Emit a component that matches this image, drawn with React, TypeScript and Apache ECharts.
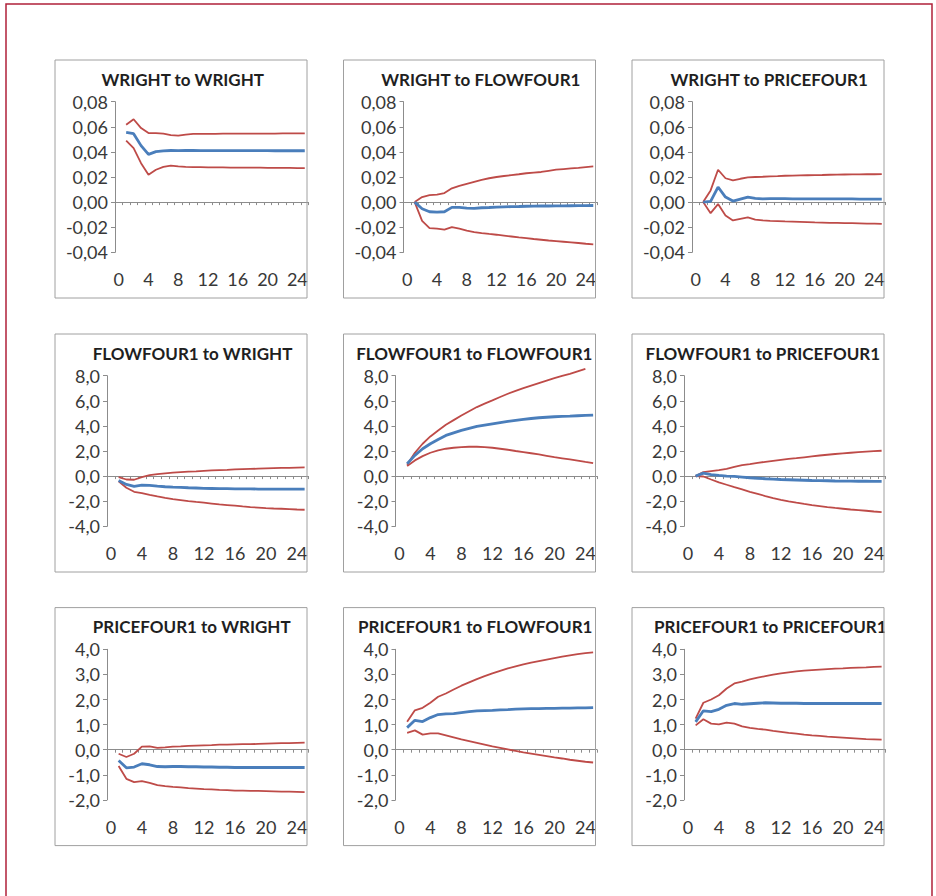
import React, { useEffect, useRef } from "react";
import * as echarts from "echarts";

// ---------- DATA ----------
const categories = ["0","1","2","3","4","5","6","7","8","9","10","11","12","13","14","15","16","17","18","19","20","21","22","23","24","25"];

const titles = [
  "WRIGHT to WRIGHT", "WRIGHT to FLOWFOUR1", "WRIGHT to PRICEFOUR1",
  "FLOWFOUR1 to WRIGHT", "FLOWFOUR1 to FLOWFOUR1", "FLOWFOUR1 to PRICEFOUR1",
  "PRICEFOUR1 to WRIGHT", "PRICEFOUR1 to FLOWFOUR1", "PRICEFOUR1 to PRICEFOUR1",
];

// y-axis scale per row: min, max, interval, decimals
const rowMin = [-0.04, -4, -2];
const rowMax = [0.08, 8, 4];
const rowInterval = [0.02, 2, 1];
const rowDecimals = [2, 1, 1];

// responses for horizons 1..25 (response, upper band, lower band)
const wrWrMid = [0.0555,0.0545,0.045,0.038,0.0402,0.0408,0.0411,0.041,0.0412,0.0411,0.041,0.041,0.041,0.041,0.041,0.041,0.041,0.041,0.041,0.041,0.0409,0.0409,0.0409,0.0409,0.0409];
const wrWrUp = [0.0616,0.066,0.059,0.055,0.055,0.0545,0.0534,0.053,0.0538,0.0543,0.0543,0.0544,0.0544,0.0545,0.0545,0.0545,0.0545,0.0546,0.0546,0.0546,0.0546,0.0547,0.0547,0.0547,0.0547];
const wrWrLo = [0.049,0.043,0.031,0.0218,0.0258,0.028,0.029,0.0284,0.0281,0.0279,0.0278,0.0277,0.0276,0.0276,0.0275,0.0275,0.0274,0.0274,0.0274,0.0273,0.0273,0.0272,0.0272,0.0271,0.0271];

const wrFlMid = [0,-0.0053,-0.0077,-0.008,-0.0077,-0.0042,-0.0042,-0.0048,-0.005,-0.0045,-0.0043,-0.004,-0.0038,-0.0036,-0.0035,-0.0033,-0.0032,-0.0031,-0.0031,-0.003,-0.003,-0.0029,-0.0028,-0.0028,-0.0027];
const wrFlUp = [0,0.004,0.0056,0.006,0.0072,0.011,0.013,0.0146,0.0162,0.0178,0.019,0.02,0.0208,0.0215,0.0222,0.023,0.0235,0.024,0.0249,0.0258,0.0263,0.0268,0.0273,0.0279,0.0284];
const wrFlLo = [0,-0.0149,-0.0207,-0.0212,-0.022,-0.02,-0.0212,-0.0228,-0.0239,-0.0247,-0.0254,-0.026,-0.0267,-0.0274,-0.0281,-0.0287,-0.0294,-0.03,-0.0306,-0.0311,-0.0316,-0.0321,-0.0326,-0.0332,-0.0337];

const wrPrMid = [0,0.0005,0.012,0.004,0.0008,0.0024,0.004,0.003,0.0025,0.0027,0.0027,0.0027,0.0026,0.0026,0.0026,0.0026,0.0025,0.0025,0.0025,0.0025,0.0025,0.0024,0.0024,0.0024,0.0024];
const wrPrUp = [0,0.0093,0.0258,0.019,0.0173,0.0186,0.0197,0.02,0.0202,0.0205,0.0207,0.021,0.0211,0.0213,0.0214,0.0215,0.0216,0.0218,0.0219,0.022,0.0221,0.0221,0.0222,0.0222,0.0223];
const wrPrLo = [0,-0.0088,-0.0016,-0.0106,-0.0146,-0.0133,-0.0122,-0.014,-0.0146,-0.0149,-0.0151,-0.0154,-0.0156,-0.0158,-0.016,-0.0162,-0.0163,-0.0165,-0.0166,-0.0167,-0.0168,-0.0169,-0.0171,-0.0172,-0.0173];

const flWrMid = [-0.35,-0.66,-0.82,-0.72,-0.74,-0.8,-0.85,-0.88,-0.9,-0.93,-0.95,-0.98,-0.99,-1.0,-1.0,-1.01,-1.02,-1.02,-1.03,-1.04,-1.04,-1.04,-1.04,-1.04,-1.04];
const flWrUp = [-0.08,-0.27,-0.29,-0.08,0.08,0.16,0.22,0.27,0.31,0.35,0.38,0.42,0.45,0.48,0.5,0.53,0.55,0.57,0.59,0.61,0.63,0.65,0.66,0.68,0.69];
const flWrLo = [-0.42,-0.93,-1.25,-1.35,-1.49,-1.62,-1.73,-1.83,-1.91,-1.99,-2.06,-2.12,-2.19,-2.26,-2.31,-2.36,-2.42,-2.47,-2.51,-2.55,-2.58,-2.6,-2.63,-2.66,-2.68];

const flFlMid = [0.98,1.65,2.18,2.58,2.92,3.24,3.45,3.64,3.8,3.96,4.07,4.17,4.27,4.36,4.44,4.52,4.59,4.65,4.69,4.73,4.76,4.78,4.81,4.84,4.86];
const flFlUp = [0.9,1.86,2.58,3.16,3.64,4.09,4.46,4.83,5.17,5.5,5.77,6.03,6.3,6.56,6.79,7.01,7.21,7.41,7.61,7.81,7.98,8.15,8.35,8.55,null];
const flFlLo = [0.8,1.25,1.59,1.86,2.05,2.18,2.26,2.31,2.34,2.34,2.31,2.26,2.18,2.1,2.0,1.91,1.82,1.73,1.62,1.51,1.42,1.33,1.23,1.13,1.04];

const flPrMid = [0,0.24,0.11,0.05,0,-0.03,-0.08,-0.13,-0.17,-0.21,-0.24,-0.27,-0.29,-0.31,-0.33,-0.35,-0.36,-0.37,-0.39,-0.4,-0.4,-0.41,-0.41,-0.42,-0.42];
const flPrUp = [0,0.32,0.4,0.48,0.58,0.74,0.88,0.96,1.05,1.14,1.22,1.3,1.37,1.43,1.5,1.57,1.64,1.7,1.76,1.81,1.86,1.91,1.95,1.99,2.02];
const flPrLo = [0,-0.03,-0.27,-0.5,-0.69,-0.88,-1.06,-1.25,-1.42,-1.59,-1.75,-1.89,-2.01,-2.12,-2.22,-2.31,-2.39,-2.47,-2.54,-2.6,-2.66,-2.71,-2.76,-2.82,-2.87];

const prWrMid = [-0.43,-0.72,-0.69,-0.56,-0.6,-0.67,-0.68,-0.67,-0.67,-0.68,-0.68,-0.69,-0.69,-0.7,-0.7,-0.71,-0.71,-0.71,-0.71,-0.71,-0.71,-0.71,-0.71,-0.71,-0.71];
const prWrUp = [-0.16,-0.29,-0.16,0.12,0.13,0.07,0.09,0.12,0.13,0.15,0.16,0.17,0.18,0.2,0.2,0.21,0.22,0.22,0.23,0.24,0.25,0.26,0.26,0.27,0.28];
const prWrLo = [-0.65,-1.16,-1.29,-1.25,-1.32,-1.41,-1.45,-1.48,-1.5,-1.53,-1.55,-1.57,-1.58,-1.6,-1.61,-1.63,-1.63,-1.64,-1.64,-1.65,-1.66,-1.67,-1.67,-1.68,-1.69];

const prFlMid = [0.88,1.17,1.12,1.28,1.4,1.43,1.44,1.48,1.52,1.55,1.56,1.57,1.59,1.6,1.62,1.63,1.64,1.64,1.65,1.65,1.66,1.66,1.67,1.67,1.68];
const prFlUp = [1.11,1.57,1.67,1.87,2.11,2.24,2.4,2.55,2.68,2.81,2.93,3.04,3.14,3.24,3.32,3.4,3.47,3.53,3.59,3.65,3.71,3.76,3.81,3.85,3.88];
const prFlLo = [0.67,0.77,0.6,0.65,0.65,0.57,0.49,0.41,0.34,0.27,0.2,0.13,0.07,0.01,-0.05,-0.11,-0.16,-0.21,-0.26,-0.31,-0.35,-0.4,-0.44,-0.48,-0.51];

const prPrMid = [1.11,1.55,1.52,1.61,1.77,1.84,1.81,1.83,1.85,1.87,1.86,1.85,1.85,1.85,1.84,1.84,1.84,1.84,1.84,1.84,1.84,1.84,1.84,1.84,1.84];
const prPrUp = [1.24,1.87,2.0,2.17,2.44,2.64,2.71,2.8,2.87,2.93,2.99,3.04,3.08,3.12,3.15,3.17,3.19,3.21,3.23,3.24,3.26,3.27,3.28,3.3,3.31];
const prPrLo = [0.97,1.21,1.04,1.01,1.08,1.04,0.93,0.87,0.83,0.8,0.75,0.71,0.67,0.64,0.6,0.57,0.55,0.52,0.5,0.48,0.46,0.44,0.42,0.41,0.4];

const panelMid = [wrWrMid, wrFlMid, wrPrMid, flWrMid, flFlMid, flPrMid, prWrMid, prFlMid, prPrMid];
const panelUp = [wrWrUp, wrFlUp, wrPrUp, flWrUp, flFlUp, flPrUp, prWrUp, prFlUp, prPrUp];
const panelLo = [wrWrLo, wrFlLo, wrPrLo, flWrLo, flFlLo, flPrLo, prWrLo, prFlLo, prPrLo];

// ---------- LAYOUT ----------
const FONT = "Lato";
const colLeft = [55, 343.5, 632];
const rowTop = [60, 334, 607.6];
const boxW = 252;
const boxH = 238;
const axisOffset = [60, 52, 52];
const plotRight = 253.5;
const plotTopOff = 41.7;
const plotH = 150.6;
const titleCx = [182.7, 480.8, 769.2, 192.5, 474.3, 762.8, 191.7, 475.2, 654];
const titleAlign = ["center", "center", "center", "center", "center", "center", "center", "center", "left"];

const BLUE = "#4A7EBB";
const RED = "#BE4B48";
const AXIS = "#8C8C8C";
const LABEL = "#383838";

export default function App() {
  const ref = useRef<HTMLDivElement>(null);
  useEffect(() => {
    if (!ref.current) return;
    const chart = echarts.init(ref.current, null, { renderer: "svg" });
    const grid: any[] = [];
    const xAxis: any[] = [];
    const yAxis: any[] = [];
    const series: any[] = [];
    const graphic: any[] = [];

    graphic.push({
      type: "rect", z: 1,
      shape: { x: 6, y: 4, width: 926, height: 920 },
      style: { fill: "none", stroke: "#B0203A", lineWidth: 1.5 },
    });

    for (let i = 0; i < 9; i++) {
      const r = Math.floor(i / 3);
      const c = i % 3;
      const bx = colLeft[c];
      const by = rowTop[r];
      const left = bx + axisOffset[r];
      const width = bx + plotRight - left;
      grid.push({ left, top: by + plotTopOff, width, height: plotH, containLabel: false });
      const dec = rowDecimals[r];
      xAxis.push({
        type: "category", gridIndex: i, data: categories, boundaryGap: true, position: "bottom",
        axisLine: { onZero: true, lineStyle: { color: AXIS, width: 1 } },
        axisTick: { show: true, interval: 0, length: 3, lineStyle: { color: AXIS } },
        axisLabel: { show: false }, splitLine: { show: false },
      });
      xAxis.push({
        type: "category", gridIndex: i, data: categories, boundaryGap: true, position: "bottom",
        axisLine: { show: false, onZero: false }, axisTick: { show: false },
        axisLabel: { show: true, interval: 3, margin: 18, fontSize: 18, color: LABEL, fontFamily: FONT },
        splitLine: { show: false },
      });
      yAxis.push({
        type: "value", gridIndex: i, min: rowMin[r], max: rowMax[r], interval: rowInterval[r],
        axisLine: { show: true, lineStyle: { color: AXIS, width: 1 } },
        axisTick: { show: true, length: 4, lineStyle: { color: AXIS } },
        splitLine: { show: false },
        axisLabel: {
          margin: 7, fontSize: 18, color: LABEL, fontFamily: FONT,
          formatter: (v: number) => v.toFixed(dec).replace(".", ","),
        },
      });
      const mk = (vals: (number | null)[], color: string, w: number, z: number) => ({
        type: "line", xAxisIndex: i * 2, yAxisIndex: i, data: [null, ...vals],
        symbol: "none", showSymbol: false, clip: false, z,
        lineStyle: { color, width: w }, itemStyle: { color },
        emphasis: { disabled: true }, silent: true,
      });
      series.push(mk(panelUp[i], RED, 1.8, 2));
      series.push(mk(panelLo[i], RED, 1.8, 2));
      series.push(mk(panelMid[i], BLUE, 2.8, 3));

      graphic.push({
        type: "text", z: 10,
        x: titleCx[i], y: by + 19.3,
        style: {
          text: titles[i], fill: "#1f1f1f", font: `bold 17px ${FONT}`,
          textAlign: titleAlign[i], textVerticalAlign: "middle",
        },
      });
      graphic.push({
        type: "rect", z: 12,
        shape: { x: bx, y: by, width: boxW, height: boxH },
        style: { fill: "none", stroke: "#A0A0A0", lineWidth: 1 },
      });
    }
    // mask for title overflowing the last column's box
    graphic.push({
      type: "rect", z: 11,
      shape: { x: colLeft[2] + boxW + 0.5, y: rowTop[2] + 2, width: 40, height: 34 },
      style: { fill: "#fff" },
    });

    chart.setOption({
      animation: false,
      textStyle: { fontFamily: FONT },
      grid, xAxis, yAxis, series, graphic,
    });
    return () => chart.dispose();
  }, []);
  return (
    <div
      ref={ref}
      style={{ position: "absolute", left: 0, top: 0, width: 936, height: 896 }}
    />
  );
}
